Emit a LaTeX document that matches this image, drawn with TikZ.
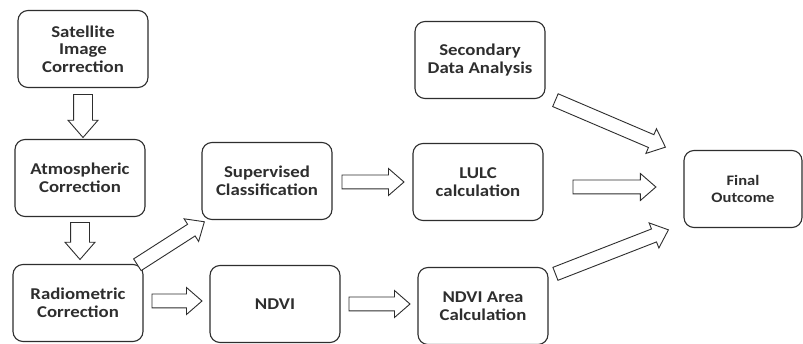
\documentclass[tikz,border=0pt]{standalone}
\usepackage{fontspec}
\setmainfont{Carlito}[FakeStretch=1.14]
\usetikzlibrary{shapes.arrows,calc}
\definecolor{ink}{HTML}{2E2E2E}
\tikzset{
  box/.style={draw=ink, line width=1.1pt, rounded corners=10pt, fill=white,
    minimum width=130pt, minimum height=77pt, align=center, inner sep=2pt,
    text=ink, font=\bfseries\fontsize{16.5}{17.5}\selectfont},
  bigarrow/.style={single arrow, draw=ink, line width=0.9pt, fill=white,
    inner sep=6.5pt, single arrow head extend=6.5pt, single arrow tip angle=82,
    shape border uses incircle=false},
  widearrow/.style={bigarrow, inner sep=9pt, single arrow head extend=5.5pt}
}
\newcommand\barrow[3][]{%
  \path let \p1=($(#3)-(#2)$), \n1={atan2(\y1,\x1)}, \n2={veclen(\x1,\y1)} in
    node[bigarrow, #1, minimum height=\n2, rotate=\n1, anchor=tail] at (#2) {};}
\begin{document}
\begin{tikzpicture}[x=1pt,y=-1pt]
\useasboundingbox[fill=white] (0,0) rectangle (803,344);
\node[box] (sat) at (83,49) {Satellite\\Image\\Correction};
\node[box] (atm) at (80,178) {Atmospheric\\Correction};
\node[box] (rad) at (78,303) {Radiometric\\Correction};
\node[box] (sup) at (267,181) {Supervised\\Classification};
\node[box] (ndvi) at (275,304) {NDVI};
\node[box] (sec) at (480,60) {Secondary\\Data Analysis};
\node[box] (lulc) at (478,182) {LULC\\calculation};
\node[box] (area) at (483,306) {NDVI Area\\Calculation};
\node[box, minimum width=118pt, font=\bfseries\fontsize{14.5}{17}\selectfont] (fin) at (743,189) {Final\\Outcome};
% arrow ends
\coordinate (a1t) at ($(sat.south)+(0,6)$);
\coordinate (a1h) at ($(sat.south)+(0,49)$);
\coordinate (a2t) at ($(atm.south)+(0,5)$);
\coordinate (a2h) at ($(atm.south)+(0,42)$);
\coordinate (a3t) at ($(rad.east)+(8,-2)$);
\coordinate (a3h) at ($(rad.east)+(58,-2)$);
\coordinate (a4t) at (137,265);
\coordinate (a4h) at (204,222);
\coordinate (a5t) at ($(sup.east)+(9,1)$);
\coordinate (a5h) at ($(sup.east)+(71,1)$);
\coordinate (a6t) at ($(ndvi.east)+(8,0)$);
\coordinate (a6h) at ($(ndvi.east)+(69,0)$);
\coordinate (a7t) at (555,100);
\coordinate (a7h) at (665,147);
\coordinate (a8t) at ($(lulc.east)+(29,5)$);
\coordinate (a8h) at ($(fin.west)+(-28,-2)$);
\coordinate (a9t) at (555,274);
\coordinate (a9h) at (668,230);
\barrow[widearrow]{a1t}{a1h}
\barrow[widearrow]{a2t}{a2h}
\barrow{a3t}{a3h}
\barrow{a4t}{a4h}
\barrow{a5t}{a5h}
\barrow{a6t}{a6h}
\barrow{a7t}{a7h}
\barrow{a8t}{a8h}
\barrow{a9t}{a9h}
\end{tikzpicture}
\end{document}
